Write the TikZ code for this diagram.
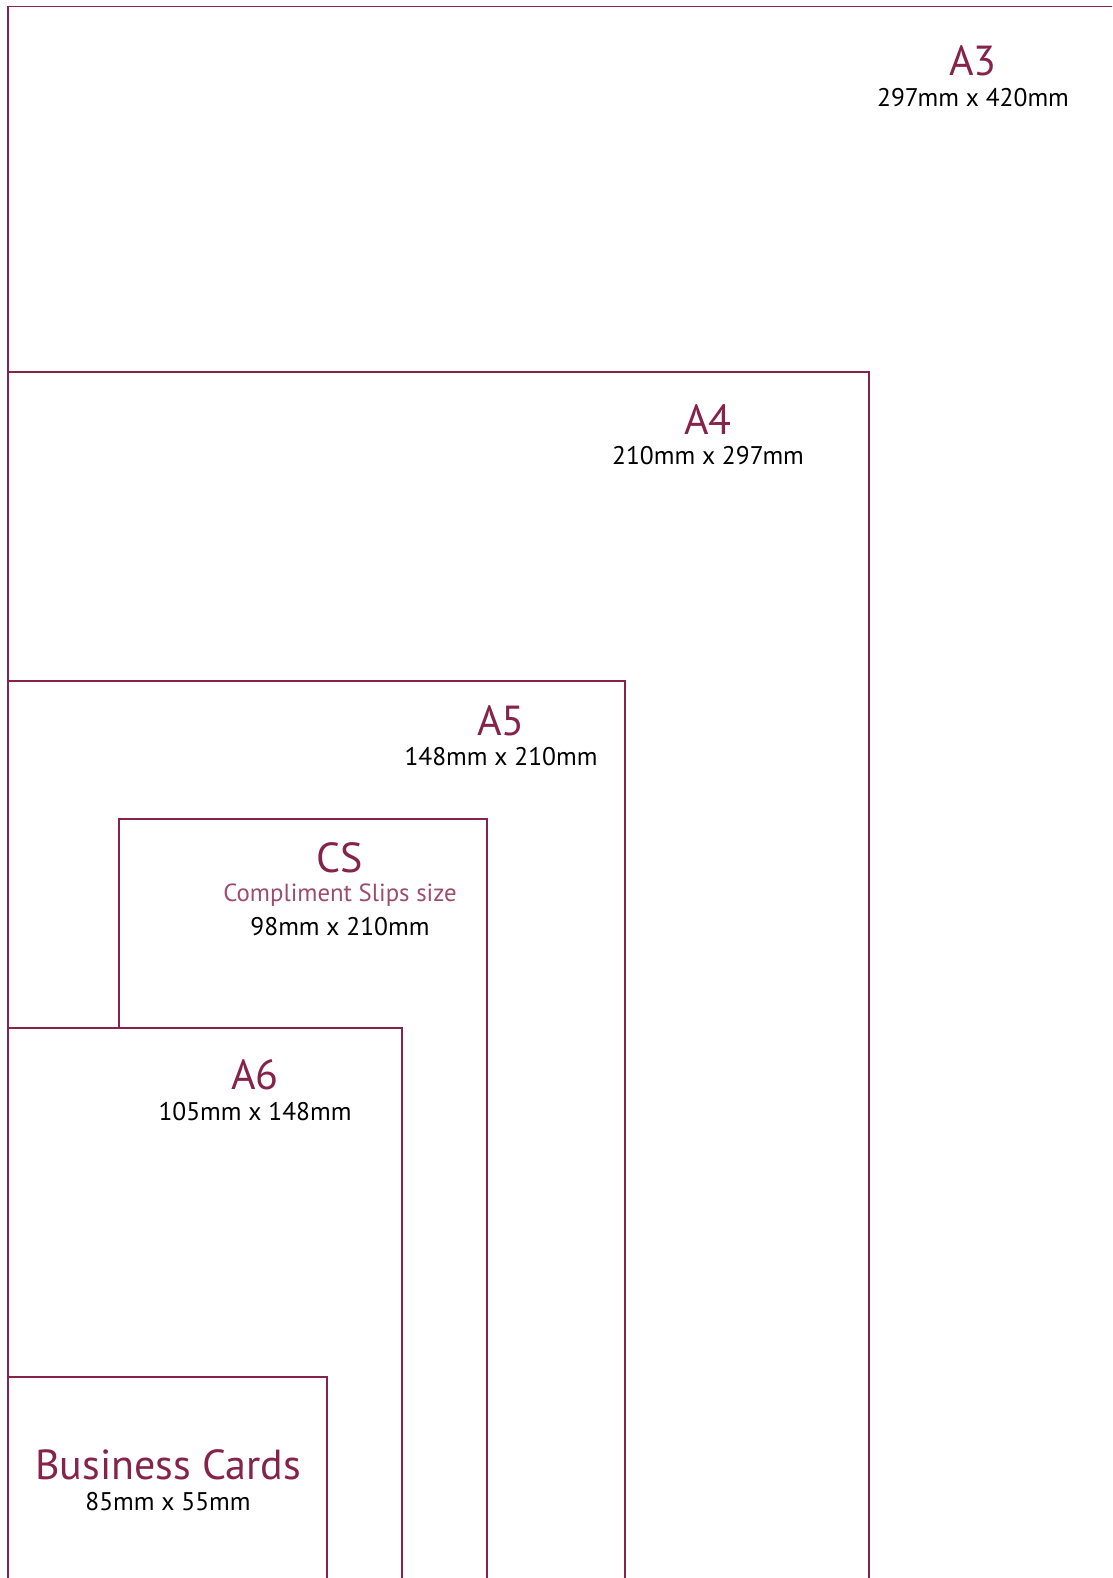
\documentclass[tikz,border=0pt]{standalone}
\usepackage{fontspec}
\setmainfont{PT Sans}
\definecolor{maroon}{HTML}{85234A}
\definecolor{lightmaroon}{HTML}{9C4D6A}
\tikzset{
  sheet/.style={draw=maroon, line width=1.1pt},
  title/.style={text=maroon, font=\fontsize{42}{46}\selectfont, inner sep=0pt, anchor=center},
  dims/.style={text=black, font=\fontsize{25.5}{28}\selectfont, inner sep=0pt, anchor=center},
  sub/.style={text=lightmaroon, font=\fontsize{24.8}{28}\selectfont, inner sep=0pt, anchor=center},
}
\begin{document}
\begin{tikzpicture}[x=1pt,y=-1pt]
\useasboundingbox (0,0) rectangle (1112,1578);
\fill[white] (0,0) rectangle (1112,1578);
\begin{scope}
\clip (0,0) rectangle (1112,1578);
\draw[sheet] (8,1600) -- (8,6.5) -- (1130,6.5);
\draw[sheet] (8,372) -- (869,372) -- (869,1600);
\draw[sheet] (8,681) -- (625,681) -- (625,1600);
\draw[sheet] (119,1028) -- (119,819) -- (487,819) -- (487,1600);
\draw[sheet] (8,1028) -- (402,1028) -- (402,1600);
\draw[sheet] (8,1377) -- (327,1377) -- (327,1600);
\end{scope}
\node[title] (a3) at (973,61) {A3};
\node[dims] (a3d) at (973,98) {297mm x 420mm};
\node[title] (a4) at (708,420) {A4};
\node[dims] (a4d) at (708,456) {210mm x 297mm};
\node[title] (a5) at (501,721) {A5};
\node[dims] (a5d) at (501,757) {148mm x 210mm};
\node[title] (cs) at (340,858) {CS};
\node[sub] (css) at (340,895) {Compliment Slips size};
\node[dims] (csd) at (340,927) {98mm x 210mm};
\node[title] (a6) at (255,1075) {A6};
\node[dims] (a6d) at (255,1112) {105mm x 148mm};
\node[title] (bc) at (168,1465) {Business Cards};
\node[dims] (bcd) at (168,1502) {85mm x 55mm};
\end{tikzpicture}
\end{document}
